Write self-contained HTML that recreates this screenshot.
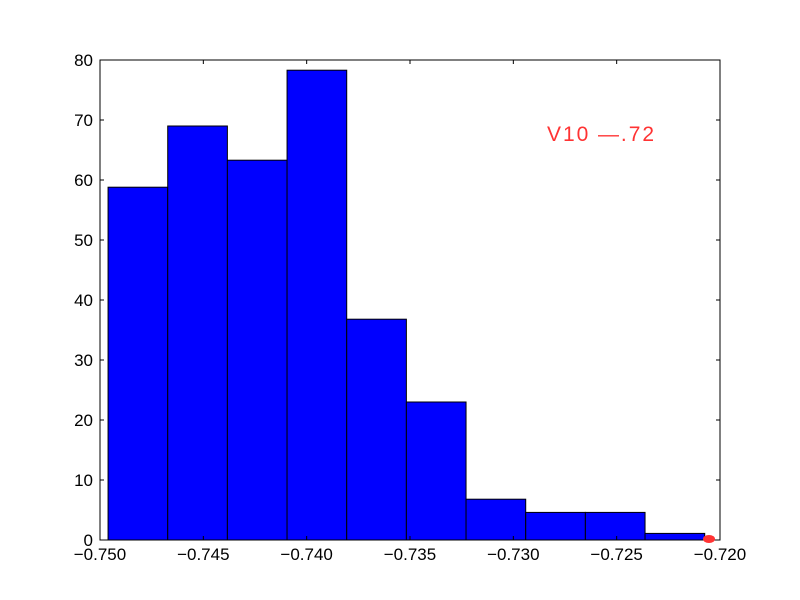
<!DOCTYPE html>
<html><head><meta charset="utf-8"><style>body{margin:0;background:#fff}svg{display:block}text{font-family:"Liberation Sans","DejaVu Sans",sans-serif}</style></head>
<body>
<svg id="chart" width="800" height="600">
<rect width="800" height="600" fill="#fff"/>
<g id="bars"></g>
<g id="ticks"></g>
<rect x="100" y="60" width="620" height="480" fill="none" stroke="#000" stroke-width="1"/>
<text x="547" y="141" font-size="21" fill="#ff3333" textLength="107" lengthAdjust="spacing">V10 —.72</text>
<ellipse cx="709" cy="539" rx="6" ry="4" fill="#ff3333"/>
</svg>
<script>
const binStart = -0.74961;
const binWidth = 0.002887;
const counts = [58.8, 69, 63.3, 78.3, 36.8, 23, 6.8, 4.6, 4.6, 1.1];
const xTicks = [-0.750, -0.745, -0.740, -0.735, -0.730, -0.725, -0.720];
const xTickLabels = ["\u22120.750","\u22120.745","\u22120.740","\u22120.735","\u22120.730","\u22120.725","\u22120.720"];
const yTicks = [0,10,20,30,40,50,60,70,80];
const NS="http://www.w3.org/2000/svg";
const X=v=>100+(v+0.75)/0.03*620;
const Y=v=>540-v*6;
const bars=document.getElementById('bars'), tk=document.getElementById('ticks');
counts.forEach((c,i)=>{
  const r=document.createElementNS(NS,'rect');
  const x0=X(binStart+i*binWidth), x1=X(binStart+(i+1)*binWidth);
  r.setAttribute('x',x0);r.setAttribute('y',Y(c));r.setAttribute('width',x1-x0);r.setAttribute('height',Y(0)-Y(c));
  r.setAttribute('fill','#0000ff');r.setAttribute('stroke','#000');r.setAttribute('stroke-width','1');
  
  
  bars.appendChild(r);
});
function line(x1,y1,x2,y2){const l=document.createElementNS(NS,'line');l.setAttribute('x1',x1);l.setAttribute('y1',y1);l.setAttribute('x2',x2);l.setAttribute('y2',y2);l.setAttribute('stroke','#000');tk.appendChild(l);}
function text(x,y,s,anchor){const t=document.createElementNS(NS,'text');t.setAttribute('x',x);t.setAttribute('y',y);t.setAttribute('font-size','17');t.setAttribute('text-anchor',anchor);t.textContent=s;
  
  
  tk.appendChild(t);}
xTicks.forEach((v,i)=>{const x=X(v);line(x,540,x,536);line(x,60,x,64);text(x,560,xTickLabels[i],'middle');});
yTicks.forEach(v=>{const y=Y(v);line(100,y,104,y);line(720,y,716,y);text(93,y+6,String(v),'end');});
</script>
</body></html>
